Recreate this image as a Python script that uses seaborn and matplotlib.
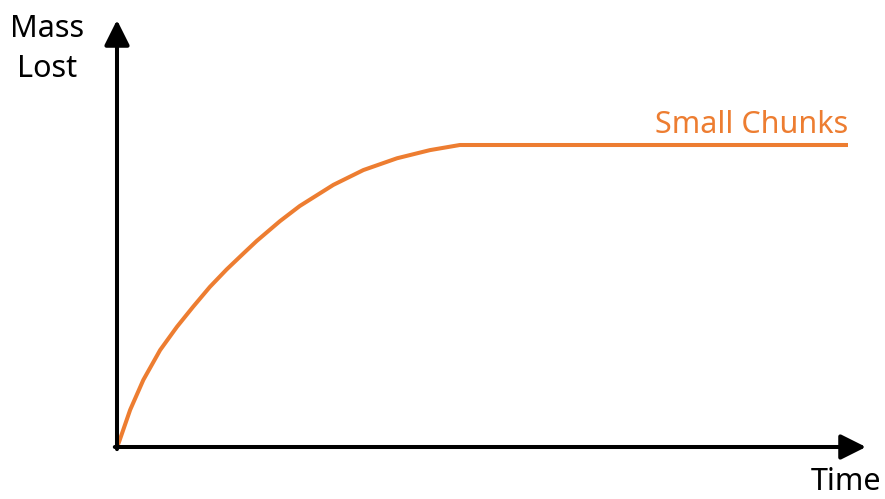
# mass lost over time sketch - small chunks curve levels off
import numpy as np
import pandas as pd
import matplotlib.pyplot as plt
import seaborn as sns

sns.set_theme(style='white')
plt.rcParams['font.family'] = ['Noto Sans', 'DejaVu Sans']

# curve (time and mass in arbitrary units)
time = [0, 0.03, 0.18, 0.36, 0.59, 0.82, 1.04, 1.27, 1.50, 1.73, 1.91,
        2.23, 2.50, 2.96, 3.37, 3.83, 4.28, 4.69, 10]
mass = [0, 0.18, 1.23, 2.22, 3.21, 3.98, 4.64, 5.30, 5.88, 6.41, 6.82,
        7.48, 7.98, 8.68, 9.17, 9.56, 9.83, 10, 10]
series_label = "Small Chunks"
x_label = "Time"
y_label = ["Mass", "Lost"]

orange = '#ED7D31'
W, H = 885, 499

df = pd.DataFrame({'time': time, 'mass': mass})

fig = plt.figure(figsize=(W / 100, H / 100), dpi=100)
# axes box in pixels: origin (117, 447), right end 866, top 20
x0, y0, x1, y1 = 117, 447, 866, 20
ax = fig.add_axes([x0 / W, 1 - y0 / H, (x1 - x0) / W, (y0 - y1) / H])

sns.lineplot(data=df, x='time', y='mass', ax=ax, color=orange, linewidth=2.9,
             solid_capstyle='butt', solid_joinstyle='round', clip_on=False)

ax.set_xlim(0, 10 * (x1 - x0) / (848 - x0))
ax.set_ylim(0, 10 * (y0 - y1) / (y0 - 145))
for s in ax.spines.values():
    s.set_visible(False)
ax.set_xticks([])
ax.set_yticks([])
ax.set_xlabel('')
ax.set_ylabel('')

# axis arrows
xmax = ax.get_xlim()[1]
ymax = ax.get_ylim()[1]
arrow = dict(arrowstyle='-|>,head_length=0.9,head_width=0.45', lw=2.9,
             color='black', mutation_scale=17, shrinkA=0, shrinkB=0)
ax.annotate('', xy=(xmax, 0), xytext=(-0.03, 0), arrowprops=arrow, annotation_clip=False)
ax.annotate('', xy=(0, ymax), xytext=(0, -0.07), arrowprops=arrow, annotation_clip=False)

# labels
fs = 22
fig.text(47 / W, 1 - 37 / H, y_label[0], ha='center', va='baseline', fontsize=fs, color='black')
fig.text(47 / W, 1 - 77 / H, y_label[1], ha='center', va='baseline', fontsize=fs, color='black')
fig.text(846 / W, 1 - 490 / H, x_label, ha='center', va='baseline', fontsize=fs, color='black')
fig.text(848 / W, 1 - 133 / H, series_label, ha='right', va='baseline', fontsize=fs, color=orange)

fig.savefig('out.png', dpi=100, facecolor='white')
